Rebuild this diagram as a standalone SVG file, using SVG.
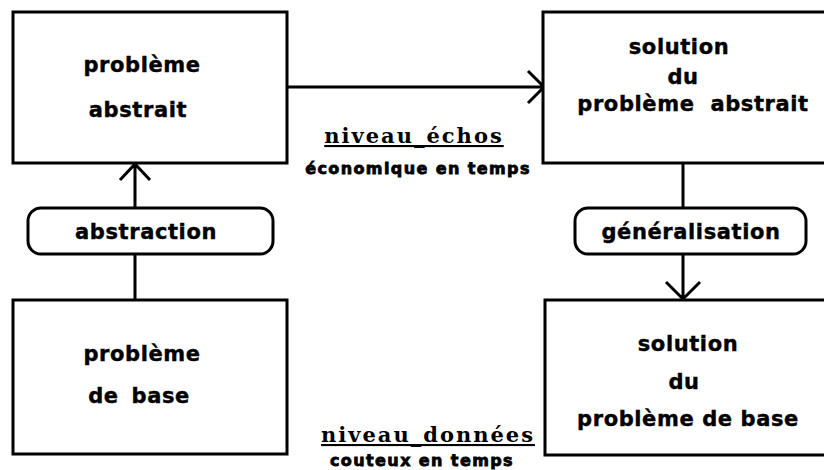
<svg xmlns="http://www.w3.org/2000/svg" width="824" height="470" viewBox="0 0 824 470">
<style>
.box{fill:#fff;stroke:#000;stroke-width:3}
.pill{fill:#fff;stroke:#000;stroke-width:3}
.t{font-family:"DejaVu Sans","Liberation Sans",sans-serif;font-weight:bold;font-size:21px;letter-spacing:0.6px;text-anchor:middle;fill:#000;stroke:#000;stroke-width:0.4}
.lv{font-family:"DejaVu Serif","Liberation Serif",serif;font-weight:bold;font-size:21px;letter-spacing:2px;text-anchor:middle;fill:#000;text-decoration:underline}
.sub{font-family:"DejaVu Sans","Liberation Sans",sans-serif;font-weight:bold;font-size:16px;letter-spacing:1.4px;text-anchor:middle;fill:#000;stroke:#000;stroke-width:0.8}
.c{fill:none;stroke:#000;stroke-width:3}
</style>
<rect width="824" height="470" fill="#fff"/>
<g id="connectors">
<path class="c" d="M135 208 V164 M120 180 L135 164 L150 180"/>
<path class="c" d="M135 254 V300"/>
<path class="c" d="M287 87 H544 M528 71 L544 87 L528 103"/>
<path class="c" d="M683 163 V208"/>
<path class="c" d="M683 254 V299 M666 282 L683 299 L700 282"/>
</g>
<g id="probleme-abstrait">
<rect class="box" x="13" y="12" width="274" height="151"/>
<text class="t" x="142" y="72">problème</text>
<text class="t" x="138" y="117">abstrait</text>
</g>
<g id="probleme-de-base">
<rect class="box" x="13" y="300" width="274" height="154"/>
<text class="t" x="142" y="361">problème</text>
<text class="t" x="139" y="403" word-spacing="5">de base</text>
</g>
<g id="solution-abstrait">
<rect class="box" x="543" y="12" width="300" height="151"/>
<text class="t" x="679" y="54">solution</text>
<text class="t" x="683" y="84">du</text>
<text class="t" x="693" y="111" word-spacing="8">problème abstrait</text>
</g>
<g id="solution-base">
<rect class="box" x="545" y="300" width="300" height="155"/>
<text class="t" x="688" y="351">solution</text>
<text class="t" x="684" y="389">du</text>
<text class="t" x="688" y="426">problème de base</text>
</g>
<g id="abstraction">
<rect class="pill" x="28" y="208" width="245" height="46" rx="13"/>
<text class="t" x="146" y="239">abstraction</text>
</g>
<g id="generalisation">
<rect class="pill" x="575" y="208" width="231" height="46" rx="13"/>
<text class="t" x="691" y="239">généralisation</text>
</g>
<g id="niveau-echos">
<text class="lv" x="414" y="143">niveau_échos</text>
<text class="sub" x="418" y="174">économique en temps</text>
</g>
<g id="niveau-donnees">
<text class="lv" x="428" y="442">niveau_données</text>
<text class="sub" x="422" y="466">couteux en temps</text>
</g>
</svg>
